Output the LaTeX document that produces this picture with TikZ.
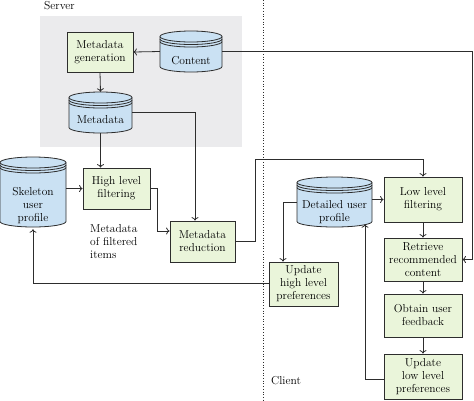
\documentclass[tikz,border=0pt]{standalone}
\usetikzlibrary{arrows.meta,positioning,calc}

\definecolor{boxgreen}{RGB}{234,245,218}
\definecolor{dbblue}{RGB}{202,225,243}
\definecolor{servergray}{RGB}{235,235,237}
\definecolor{linegray}{RGB}{45,45,45}

\tikzset{
	txt/.style={font=\fontsize{11.5}{13}\selectfont},
	proc/.style={txt, draw=linegray, line width=0.8pt, fill=boxgreen, align=center, inner sep=1pt},
	dbshape/.style={draw=linegray, line width=0.8pt, fill=dbblue},
	dbline/.style={draw=linegray, line width=0.8pt},
	link/.style={draw=linegray, line width=0.8pt, -{To[length=3.5pt,width=7pt]}},
}

% cylinder: name, x, y, width, height, text drop, text
\newcommand{\dbcyl}[7]{%
	\pgfmathsetmacro{\ra}{#4/2}
	\pgfmathsetmacro{\yt}{#3+#5/2-5.5}
	\pgfmathsetmacro{\yb}{#3-#5/2+5.5}
	\draw[dbshape] (#2-\ra,\yt) -- (#2-\ra,\yb)
		arc[start angle=180,end angle=360,x radius=\ra pt,y radius=5.5pt]
		-- (#2+\ra,\yt)
		arc[start angle=0,end angle=180,x radius=\ra pt,y radius=5.5pt] -- cycle;
	\foreach \dy in {0,2.5,5}
		\draw[dbline] (#2-\ra,\yt-\dy) arc[start angle=180,end angle=360,x radius=\ra pt,y radius=5.5pt];
	\node[inner sep=0, minimum width=#4pt, minimum height=#5pt] (#1) at (#2,#3) {};
	\node[txt, align=center, inner sep=0] (#1-t) at (#2,#3-#6) {#7};
}

\begin{document}
\begin{tikzpicture}[x=1pt,y=1pt]
	\useasboundingbox (0,0) rectangle (474,-400);

	% server area
	\fill[servergray] (40,-16) rectangle (242,-147);
	\node[txt, anchor=west, inner sep=0] (server) at (44,-5.5) {Server};
	\node[txt, anchor=west, inner sep=0] (client) at (271,-381) {Client};
	\draw[linegray, line width=0.7pt, dotted] (263,0) -- (263,-400);

	% stores
	\dbcyl{content}{191}{-51.5}{62}{41}{9}{Content}
	\dbcyl{meta}{100.5}{-112.5}{63}{41}{7}{Metadata}
	\dbcyl{skel}{33}{-192}{66}{70}{14}{Skeleton\\user\\profile}
	\dbcyl{detail}{334.5}{-202}{75}{50}{10}{Detailed user\\profile}

	% steps
	\node[proc, minimum width=66pt, minimum height=40pt] (gen) at (100,-52) {Metadata\\generation};
	\node[proc, minimum width=67pt, minimum height=41pt] (high) at (116.5,-188.5) {High level\\filtering};
	\node[proc, minimum width=65pt, minimum height=41pt] (red) at (202.5,-241.5) {Metadata\\reduction};
	\node[proc, minimum width=69pt, minimum height=44pt] (updhigh) at (303.5,-284) {Update\\high level\\preferences};
	\node[proc, minimum width=78pt, minimum height=45pt] (low) at (423,-199.5) {Low level\\filtering};
	\node[proc, minimum width=78pt, minimum height=43pt] (retr) at (423,-259.5) {Retrieve\\recommended\\content};
	\node[proc, minimum width=78pt, minimum height=43pt] (obtain) at (423,-315.5) {Obtain user\\feedback};
	\node[proc, minimum width=78pt, minimum height=45pt] (updlow) at (423,-376.5) {Update\\low level\\preferences};

	\node[txt, align=left, anchor=north west, inner sep=0] (mfi) at (90,-224) {Metadata\\of filtered\\items};

	% links
	\draw[link] (content.west) -- (gen.east);
	\draw[link] (content.east) -- ++(250,0) |- (retr.east);
	\draw[link] (gen.south) -- (meta.north);
	\draw[link] (meta.east) -| ([xshift=-7.5]red.north);
	\draw[link] (meta.south) -- (meta.south |- high.north);
	\draw[link] (skel.east |- high.west) -- (high.west);
	\draw[link] (high.east) -- ++(7,0) |- ([yshift=10.5]red.west);
	\draw[link] (red.east) -- ++(20,0) |- ([yshift=17]low.north) -- (low.north);
	\draw[link] (detail.east |- low.west) -- (low.west);
	\draw[link] (low.south) -- (retr.north);
	\draw[link] (retr.south) -- (obtain.north);
	\draw[link] (obtain.south) -- (updlow.north);
	\draw[link] ([yshift=-2.5]updlow.west) -| ([xshift=30.5,yshift=3]detail.south);
	\draw[link] (detail.west) -| ([xshift=-20.5]updhigh.north);
	\draw[link] ([yshift=1]updhigh.west) -| ([yshift=-2]skel.south);
\end{tikzpicture}
\end{document}
